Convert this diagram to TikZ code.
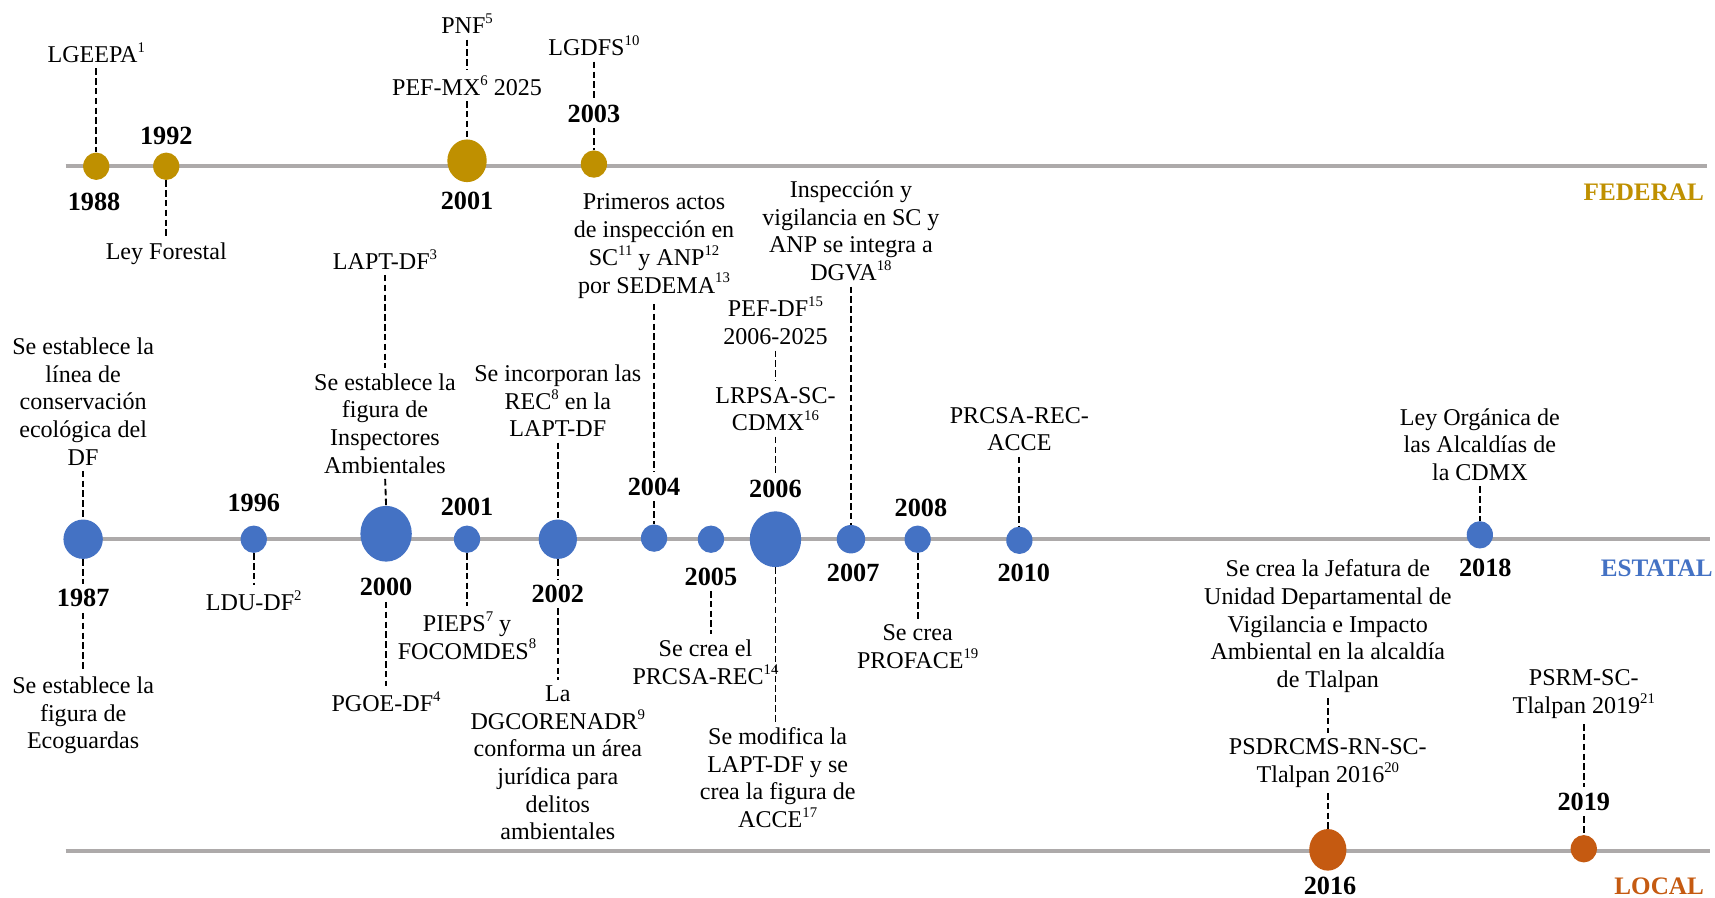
\documentclass[tikz,border=0pt]{standalone}
\usepackage{fontspec}
\setmainfont{Liberation Serif}
\usetikzlibrary{shapes.geometric}
\definecolor{gold}{RGB}{191,144,0}
\definecolor{blu}{RGB}{68,114,196}
\definecolor{org}{RGB}{197,90,17}
\definecolor{axisgray}{RGB}{173,170,170}
\newcommand{\supr}[1]{\raisebox{0.42em}{\fontsize{13.5}{13.5}\selectfont #1}}
\begin{document}
\begin{tikzpicture}[x=1pt,y=-1pt,
  axisline/.style={draw=axisgray, line width=4pt},
  lbl/.style={font=\fontsize{22}{25.3}\selectfont, align=center, inner sep=1pt},
  yr/.style={font=\bfseries\fontsize{24}{26}\selectfont, inner sep=1pt},
  lev/.style={font=\bfseries\fontsize{23}{25}\selectfont, inner sep=0pt, anchor=east},
  sdot/.style={ellipse, fill=#1, inner sep=0pt, minimum width=24pt, minimum height=25pt},
  mdot/.style={ellipse, fill=#1, inner sep=0pt, minimum width=36pt, minimum height=39pt},
  bdot/.style={ellipse, fill=#1, inner sep=0pt, minimum width=47pt, minimum height=51pt},
  dsh/.style={draw, black, dash pattern=on 6pt off 3pt, line width=1.7pt, shorten <=4pt, shorten >=4pt},
  todot/.style={dsh, shorten >=0pt},
  fromdot/.style={dsh, shorten <=0pt}]
\useasboundingbox (0,0) rectangle (1568,821);

% axes
\coordinate (fa) at (60,152); \coordinate (fb) at (1561,152);
\coordinate (ea) at (60,493); \coordinate (eb) at (1563,493);
\coordinate (la) at (60,778); \coordinate (lb) at (1563,778);
\draw[axisline] (fa) -- (fb);
\draw[axisline] (ea) -- (eb);
\draw[axisline] (la) -- (lb);

\node[lev, text=gold] (levF) at (1558,176) {FEDERAL};
\node[lev, text=blu] (levE) at (1566,520) {ESTATAL};
\node[lev, text=org] (levL) at (1558,810) {LOCAL};

% ---------------- FEDERAL ----------------
\node[sdot=gold] (f1988) at (88,152) {};
\node[yr] (y1988) at (86,185) {1988};
\node[lbl] (t1988) at (88,48) {LGEEPA\supr{1}};
\draw[todot] (t1988.south) -- (f1988.north);

\node[sdot=gold] (f1992) at (152,152) {};
\node[yr] (y1992) at (152,124) {1992};
\node[lbl] (t1992) at (152,232) {Ley Forestal};
\draw[fromdot] (f1992.south) -- (t1992.north);

\node[mdot=gold] (f2001) at (427,147) {};
\node[yr] (y2001f) at (427,184) {2001};
\node[lbl] (ta2001f) at (427,22) {PNF\supr{5}};
\node[lbl] (tb2001f) at (427,78) {PEF-MX\supr{6} 2025};
\draw[dsh] (ta2001f.south) -- (tb2001f.north);
\draw[todot] (tb2001f.south) -- (f2001.north);

\node[sdot=gold] (f2003) at (543,150) {};
\node[yr] (y2003) at (543,104) {2003};
\node[lbl] (t2003) at (543,42) {LGDFS\supr{10}};
\draw[dsh] (t2003.south) -- (y2003.north);
\draw[todot] (y2003.south) -- (f2003.north);

% ---------------- ESTATAL ----------------
\node[ellipse, fill=blu, inner sep=0pt, minimum width=36pt, minimum height=36pt] (e1987) at (76,493) {};
\node[lbl] (ta1987) at (76,367) {Se establece la\\línea de\\conservación\\ecológica del\\DF};
\node[yr] (y1987) at (76,547) {1987};
\node[lbl] (tb1987) at (76,654) {Se establece la\\figura de\\Ecoguardas};
\draw[todot] (ta1987.south) -- (e1987.north);
\draw[fromdot] (e1987.south) -- (y1987.north);
\draw[dsh] (y1987.south) -- (tb1987.north);

\node[sdot=blu] (e1996) at (232,493) {};
\node[yr] (y1996) at (232,460) {1996};
\node[lbl] (t1996) at (232,549) {LDU-DF\supr{2}};
\draw[fromdot] (e1996.south) -- (t1996.north);

\node[bdot=blu] (e2000) at (353,488) {};
\node[lbl] (ta2000) at (352,237) {LAPT-DF\supr{3}};
\node[lbl] (tb2000) at (352,387) {Se establece la\\figura de\\Inspectores\\Ambientales};
\node[yr] (y2000) at (353,537) {2000};
\node[lbl] (tc2000) at (353,642) {PGOE-DF\supr{4}};
\draw[dsh] (ta2000.south) -- (tb2000.north);
\draw[todot] (tb2000.south) -- (e2000.north);
\draw[dsh] (y2000.south) -- (tc2000.north);

\node[sdot=blu] (e2001) at (427,493) {};
\node[yr] (y2001e) at (427,463) {2001};
\node[lbl] (t2001e) at (427,581) {PIEPS\supr{7} y\\FOCOMDES\supr{8}};
\draw[fromdot] (e2001.south) -- (t2001e.north);

\node[ellipse, fill=blu, inner sep=0pt, minimum width=35pt, minimum height=36pt] (e2002) at (510,493) {};
\node[lbl] (ta2002) at (510,366.5) {Se incorporan las\\REC\supr{8} en la\\LAPT-DF};
\node[yr] (y2002) at (510,543) {2002};
\node[lbl] (tb2002) at (510,697.5) {La\\DGCORENADR\supr{9}\\conforma un área\\jurídica para\\delitos\\ambientales};
\draw[todot] (ta2002.south) -- (e2002.north);
\draw[fromdot] (e2002.south) -- (y2002.north);
\draw[dsh] (y2002.south) -- (tb2002.north);

\node[sdot=blu] (e2004) at (598,492) {};
\node[lbl] (t2004) at (598,225) {Primeros actos\\de inspección en\\SC\supr{11} y ANP\supr{12}\\por SEDEMA\supr{13}};
\node[yr] (y2004) at (598,445) {2004};
\draw[dsh] (t2004.south) -- (y2004.north);
\draw[todot] (y2004.south) -- (e2004.north);

\node[sdot=blu] (e2005) at (650,493) {};
\node[yr] (y2005) at (650,527) {2005};
\node[lbl] (t2005) at (645,605.5) {Se crea el\\PRCSA-REC\supr{14}};
\draw[dsh] (y2005.south) -- (y2005.south |- t2005.north);

\node[bdot=blu] (e2006) at (709,493) {};
\node[lbl] (ta2006) at (709,293.5) {PEF-DF\supr{15}\\2006-2025};
\node[lbl] (tb2006) at (709,374) {LRPSA-SC-\\CDMX\supr{16}};
\node[yr] (y2006) at (709,447) {2006};
\node[lbl] (tc2006) at (711,711) {Se modifica la\\LAPT-DF y se\\crea la figura de\\ACCE\supr{17}};
\draw[dsh] (ta2006.south) -- (tb2006.north);
\draw[dsh] (tb2006.south) -- (y2006.north);
\draw[fromdot] (e2006.south) -- (e2006.south |- tc2006.north);

\node[ellipse, fill=blu, inner sep=0pt, minimum width=26pt, minimum height=26pt] (e2007) at (778,493) {};
\node[lbl] (t2007) at (778,211) {Inspección y\\vigilancia en SC y\\ANP se integra a\\DGVA\supr{18}};
\node[yr] (y2007) at (780,524) {2007};
\draw[todot] (t2007.south) -- (e2007.north);

\node[sdot=blu] (e2008) at (839,493) {};
\node[yr] (y2008) at (842,464) {2008};
\node[lbl] (t2008) at (839,591.5) {Se crea\\PROFACE\supr{19}};
\draw[fromdot] (e2008.south) -- (t2008.north);

\node[sdot=blu] (e2010) at (932,494) {};
\node[lbl] (t2010) at (932,392.5) {PRCSA-REC-\\ACCE};
\node[yr] (y2010) at (936,524) {2010};
\draw[todot] (t2010.south) -- (e2010.north);

\node[sdot=blu] (e2018) at (1353,489) {};
\node[lbl] (t2018) at (1353,406.5) {Ley Orgánica de\\las Alcaldías de\\la CDMX};
\node[yr] (y2018) at (1358,519) {2018};
\draw[todot] (t2018.south) -- (e2018.north);

% ---------------- LOCAL ----------------
\node[ellipse, fill=org, inner sep=0pt, minimum width=34pt, minimum height=38pt] (l2016) at (1214,777) {};
\node[lbl] (ta2016) at (1214,572.5) {Se crea la Jefatura de\\Unidad Departamental de\\Vigilancia e Impacto\\Ambiental en la alcaldía\\de Tlalpan};
\node[lbl] (tb2016) at (1214,697.5) {PSDRCMS-RN-SC-\\Tlalpan 2016\supr{20}};
\node[yr] (y2016) at (1216,810) {2016};
\draw[dsh] (ta2016.south) -- (tb2016.north);
\draw[todot] (tb2016.south) -- (l2016.north);

\node[sdot=org] (l2019) at (1448,776) {};
\node[lbl] (ta2019) at (1448,634.5) {PSRM-SC-\\Tlalpan 2019\supr{21}};
\node[yr] (y2019) at (1448,733) {2019};
\draw[dsh] (ta2019.south) -- (y2019.north);
\draw[todot] (y2019.south) -- (l2019.north);
\end{tikzpicture}
\end{document}
